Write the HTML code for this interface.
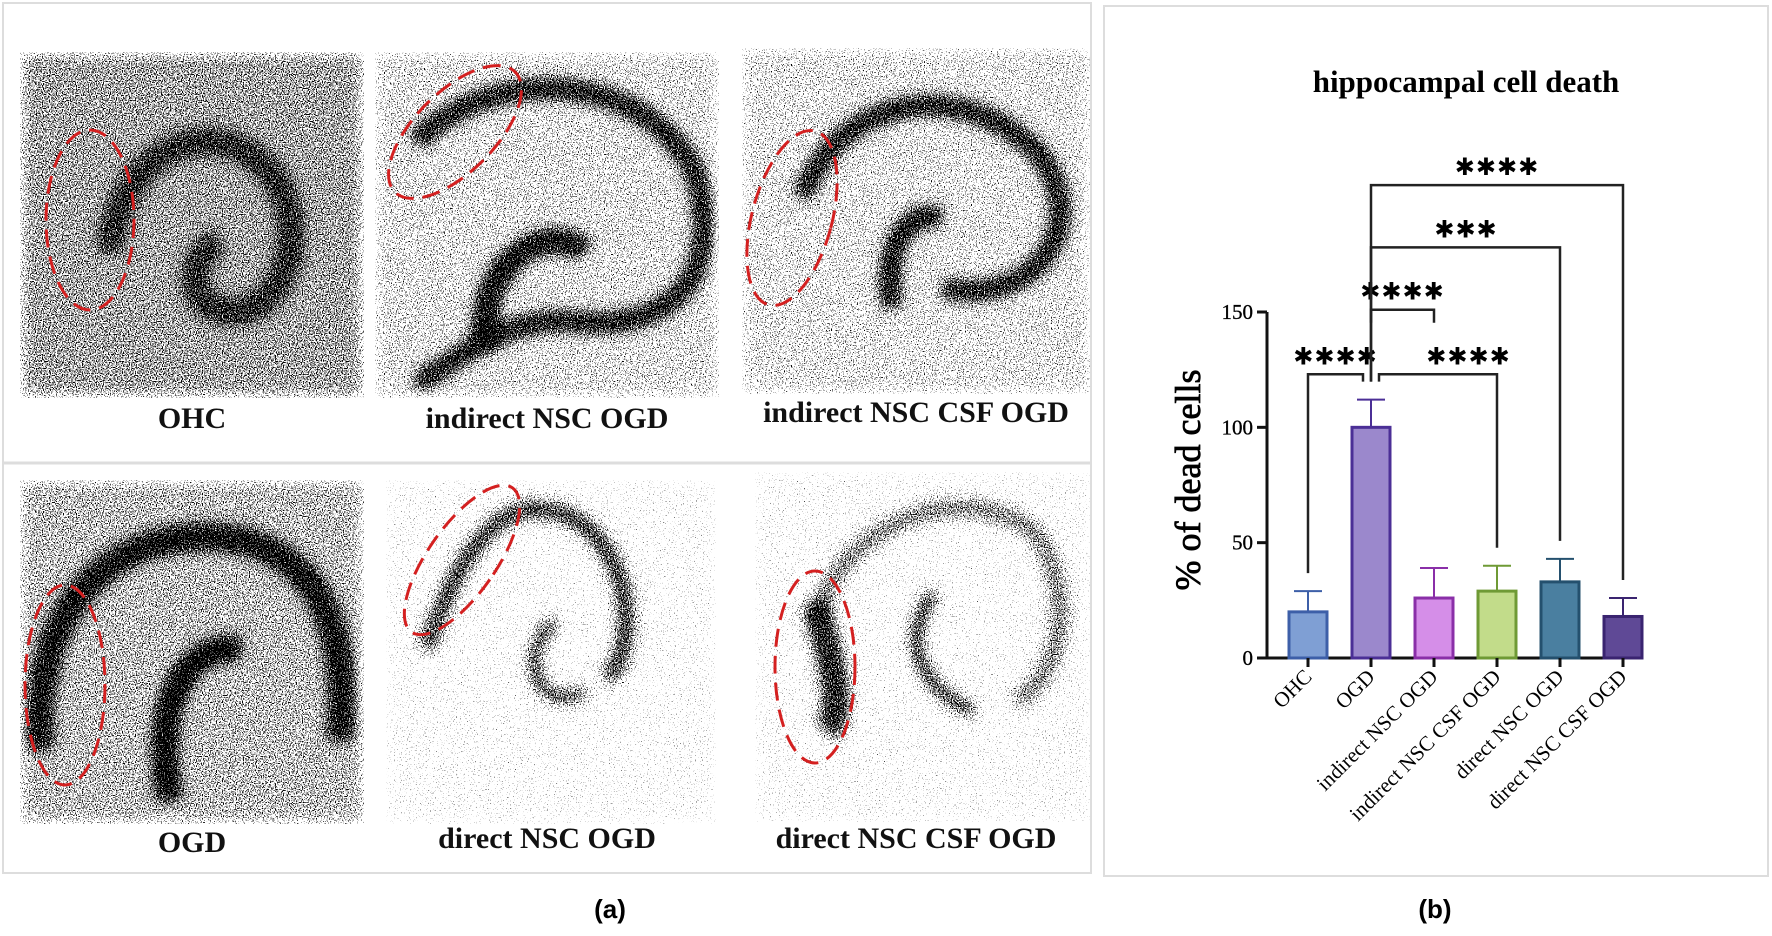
<!DOCTYPE html>
<html><head><meta charset="utf-8"><style>
body{margin:0;background:#fff;}
#root{position:relative;width:1772px;height:936px;overflow:hidden;font-family:"Liberation Serif",serif;}
.lbl{position:absolute;font-weight:bold;font-size:30px;text-align:center;color:#111;white-space:nowrap;}
</style></head><body>
<div id="root">
<svg width="1772" height="936" style="position:absolute;left:0;top:0">
<defs>
<filter id="speck" x="0" y="0" width="100%" height="100%" color-interpolation-filters="sRGB">
<feTurbulence type="fractalNoise" baseFrequency="0.85" numOctaves="1" seed="3" result="n"/>
<feColorMatrix in="n" type="matrix" values="0 0 0 0 0  0 0 0 0 0  0 0 0 0 0  2.2 0 0 0 -0.6" result="na"/>
<feGaussianBlur in="SourceAlpha" stdDeviation="7" result="d"/>
<feComposite in="d" in2="na" operator="arithmetic" k1="0" k2="1" k3="1" k4="-1" result="s"/>
<feComponentTransfer in="s" result="t"><feFuncA type="linear" slope="6" intercept="0"/></feComponentTransfer>
<feFlood flood-color="#000"/><feComposite in2="t" operator="in"/>
</filter>
</defs>
<rect x="3" y="3" width="1088" height="870" fill="none" stroke="#ddd" stroke-width="2"/>
<line x1="3" y1="463" x2="1091" y2="463" stroke="#ddd" stroke-width="3"/>
<rect x="1104" y="6" width="664" height="870" fill="none" stroke="#ddd" stroke-width="2"/>

<g transform="translate(20,52)">
 <g filter="url(#speck)"><rect width="344" height="346" fill="#000" fill-opacity="0.5"/>
 <path d="M90,200 C100,90 200,60 250,120 C290,170 270,260 210,260 C160,255 170,200 200,190" fill="none" stroke="#000" stroke-opacity="0.64" stroke-width="26"/></g>
 <ellipse cx="70" cy="168" rx="44" ry="90" fill="none" stroke="#d42020" stroke-width="3" stroke-dasharray="18 9"/>
</g>
<g transform="translate(375,52)">
 <g filter="url(#speck)"><rect width="344" height="346" fill="#000" fill-opacity="0.32"/>
 <path d="M40,90 C120,10 270,20 320,120 C350,220 300,280 200,270 C120,260 60,330 40,330" fill="none" stroke="#000" stroke-opacity="0.8" stroke-width="22"/>
 <path d="M110,300 C100,200 180,170 210,200" fill="none" stroke="#000" stroke-opacity="0.85" stroke-width="26"/></g>
 <ellipse cx="80" cy="80" rx="40" ry="85" fill="none" stroke="#d42020" stroke-width="3" stroke-dasharray="18 9" transform="rotate(45 80 80)"/>
</g>
<g transform="translate(742,48)">
 <g filter="url(#speck)"><rect width="348" height="346" fill="#000" fill-opacity="0.3"/>
 <path d="M60,150 C100,40 230,30 300,110 C350,180 290,260 200,240" fill="none" stroke="#000" stroke-opacity="0.8" stroke-width="22"/>
 <path d="M150,260 C140,190 170,160 200,170" fill="none" stroke="#000" stroke-opacity="0.85" stroke-width="22"/></g>
 <ellipse cx="50" cy="170" rx="40" ry="90" fill="none" stroke="#d42020" stroke-width="3" stroke-dasharray="18 9" transform="rotate(15 50 170)"/>
</g>
<g transform="translate(20,480)">
 <g filter="url(#speck)"><rect width="344" height="344" fill="#000" fill-opacity="0.44"/>
 <path d="M20,270 C10,120 100,40 220,60 C300,80 330,150 320,260" fill="none" stroke="#000" stroke-opacity="0.85" stroke-width="26"/>
 <path d="M150,320 C130,220 170,160 220,170" fill="none" stroke="#000" stroke-opacity="0.95" stroke-width="24"/></g>
 <ellipse cx="45" cy="205" rx="40" ry="100" fill="none" stroke="#d42020" stroke-width="3" stroke-dasharray="18 9"/>
</g>
<g transform="translate(386,480)">
 <g filter="url(#speck)"><rect width="330" height="344" fill="#000" fill-opacity="0.12"/>
 <path d="M40,170 C70,80 110,20 160,30 C240,40 260,160 220,200" fill="none" stroke="#000" stroke-opacity="0.75" stroke-width="20"/>
 <path d="M170,140 C130,170 150,240 200,210" fill="none" stroke="#000" stroke-opacity="0.8" stroke-width="14"/></g>
 <ellipse cx="76" cy="80" rx="34" ry="88" fill="none" stroke="#d42020" stroke-width="3" stroke-dasharray="18 9" transform="rotate(35 76 80)"/>
</g>
<g transform="translate(755,472)">
 <g filter="url(#speck)"><rect width="335" height="350" fill="#000" fill-opacity="0.12"/>
 <path d="M60,150 C80,60 200,0 280,60 C320,120 310,200 260,230" fill="none" stroke="#000" stroke-opacity="0.55" stroke-width="20"/>
 <path d="M60,130 C80,200 90,240 70,260" fill="none" stroke="#000" stroke-opacity="0.8" stroke-width="30"/>
 <path d="M180,120 C140,170 170,220 220,240" fill="none" stroke="#000" stroke-opacity="0.85" stroke-width="14"/></g>
 <ellipse cx="60" cy="195" rx="40" ry="96" fill="none" stroke="#d42020" stroke-width="3" stroke-dasharray="18 9"/>
</g>
<text x="610" y="918" text-anchor="middle" font-family="Liberation Sans" font-weight="bold" font-size="26">(a)</text>
<text x="1435" y="918" text-anchor="middle" font-family="Liberation Sans" font-weight="bold" font-size="26">(b)</text>
<g id="chart"></g>
</svg>
<div class="lbl" style="left:20px;width:344px;top:402px">OHC</div>
<div class="lbl" style="left:375px;width:344px;top:402px">indirect NSC OGD</div>
<div class="lbl" style="left:742px;width:348px;top:396px">indirect NSC CSF OGD</div>
<div class="lbl" style="left:20px;width:344px;top:826px">OGD</div>
<div class="lbl" style="left:375px;width:344px;top:822px">direct NSC OGD</div>
<div class="lbl" style="left:742px;width:348px;top:822px">direct NSC CSF OGD</div>
</div>
<script>
const categories = ["OHC","OGD","indirect NSC OGD","indirect NSC CSF OGD","direct NSC OGD","direct NSC CSF OGD"];
const means = [20,100,26,29,33,18];
const errors = [9,12,13,11,10,8];
const yTicks = [0,50,100,150];
const fills = ["#7f9fd4","#9b88cc","#d58ee8","#c2dc8a","#4a7fa0","#5f4996"];
const strokes = ["#3d5fa8","#4b2f96","#8a2fa8","#6f9a35","#24506e","#3a2470"];
const comparisons = [[0,1,"****"],[1,2,"****"],[1,3,"****"],[1,4,"***"],[1,5,"****"]];
const compLevels = [123,151,123,178,205];

const NS="http://www.w3.org/2000/svg";
const g=document.getElementById('chart');
const x0=1267, x1=1640, y0=658, yMax=150, yTop=312;
const ys=v=>y0-(v/yMax)*(y0-yTop);
const step=63, first=1308;
const xs=i=>first+i*step;
function mk(t,a,p){const e=document.createElementNS(NS,t);for(const k in a)e.setAttribute(k,a[k]);(p||g).appendChild(e);return e;}

let t=mk('text',{x:1466,y:92,'text-anchor':'middle','font-size':31,'font-weight':'bold','font-family':'Liberation Serif'});
t.textContent="hippocampal cell death";


t=mk('text',{x:0,y:0,'text-anchor':'middle','font-size':36,'font-family':'Liberation Serif',stroke:'#000','stroke-width':0.8,transform:'translate(1200,480) rotate(-90)'});
t.textContent="% of dead cells";



let ax=mk('line',{x1:x0,y1:yTop,x2:x0,y2:y0,stroke:'#111','stroke-width':3});


ax=mk('line',{x1:x0,y1:y0,x2:x1,y2:y0,stroke:'#111','stroke-width':3});


yTicks.forEach(v=>{
 const l=mk('line',{x1:x0-10,y1:ys(v),x2:x0,y2:ys(v),stroke:'#111','stroke-width':3});
 
 
 const tx=mk('text',{x:x0-14,y:ys(v)+7,'text-anchor':'end','font-size':21,'font-family':'Liberation Serif',stroke:'#000','stroke-width':0.3});
 tx.textContent=v;
 
 
});
categories.forEach((c,i)=>{
 const cx=xs(i), bw=38;
 const er=mk('path',{d:`M${cx},${ys(means[i])} V${ys(means[i]+errors[i])} M${cx-14},${ys(means[i]+errors[i])} H${cx+14}`,stroke:strokes[i],'stroke-width':2,fill:'none'});
 
 
 const b=mk('rect',{x:cx-bw/2,y:ys(means[i]),width:bw,height:y0-ys(means[i]),fill:fills[i],stroke:strokes[i],'stroke-width':3});
 
 
 const tk=mk('line',{x1:cx,y1:y0,x2:cx,y2:y0+9,stroke:'#111','stroke-width':3});
 
 
 const lb=mk('text',{x:0,y:0,'text-anchor':'end','font-size':21,'font-family':'Liberation Serif',transform:`translate(${cx+5},${y0+20}) rotate(-45)`});
 lb.textContent=c;
 
 
});
comparisons.forEach((cmp,k)=>{
 const [a,b,s]=cmp, yb=ys(compLevels[k]);
 let ax_=xs(a), bx_=xs(b);
 if(k===0) bx_-=8; if(k===2) ax_+=8;
 const ya=ys(means[a]+errors[a])-18, yb2=ys(means[b]+errors[b])-18;
 const p=mk('path',{d:`M${ax_},${ya} V${yb} H${bx_} V${yb2}`,stroke:'#222','stroke-width':2.5,fill:'none'});
 if(k===1) p.setAttribute('d',`M${ax_},${yb+13} V${yb} H${bx_} V${yb+13}`);
 
 
 const cxs = k===1?(ax_+bx_)/2:(k===0?(ax_+bx_)/2:(k===2?(xs(2)+xs(3))/2+3:(k===3?xs(2)+32:xs(3)+0)));
 const st=mk('text',{x:cxs,y:yb-10,'text-anchor':'middle','font-size':24,'font-weight':'bold','font-family':'DejaVu Sans','letter-spacing':1});
 st.textContent=s.replace(/\*/g,'✱');
 
 
});
</script>
</body></html>
